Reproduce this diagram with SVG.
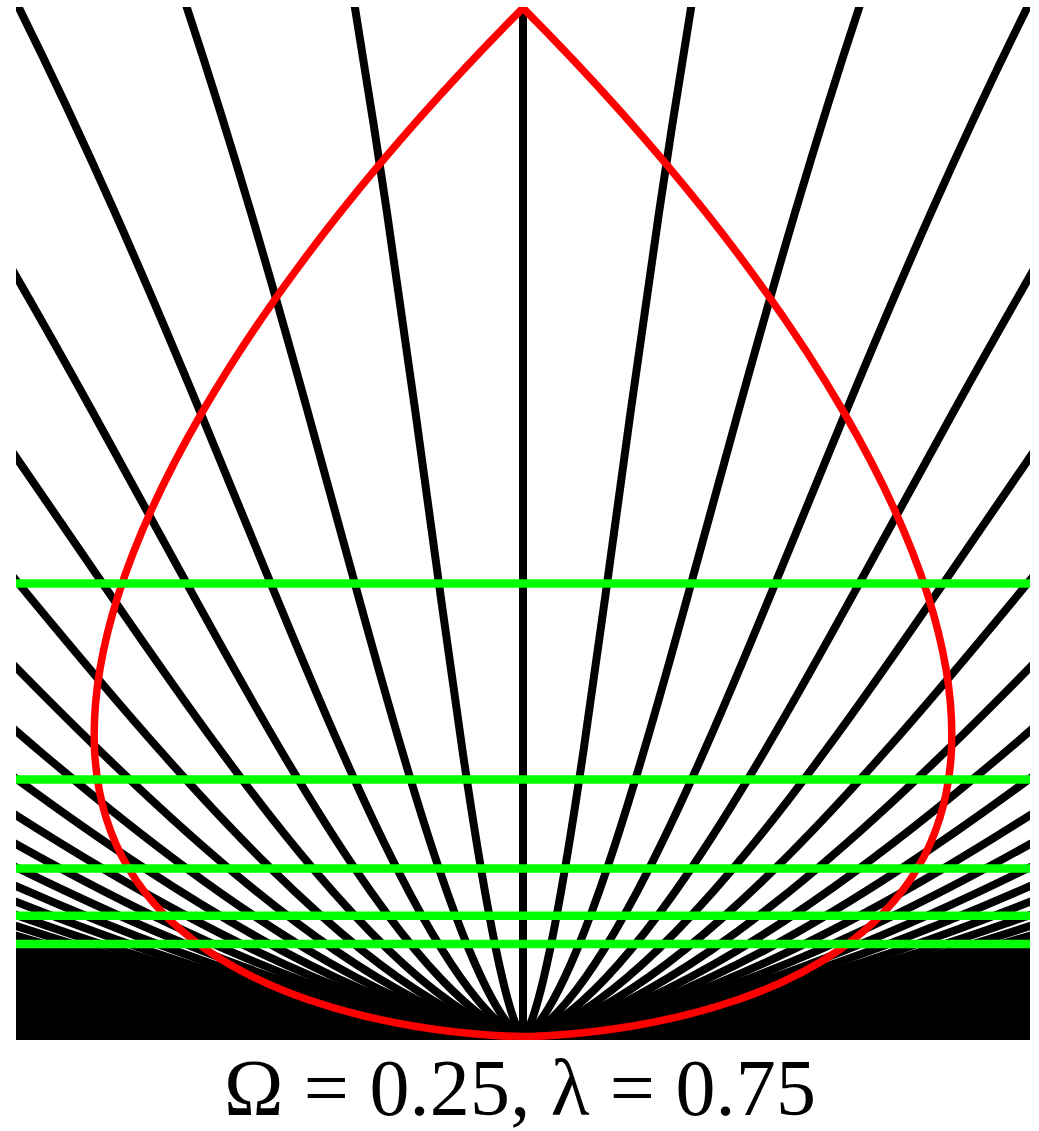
<svg xmlns="http://www.w3.org/2000/svg" width="1039" height="1131" viewBox="0 0 1039 1131">
<style>
.wl{fill:none;stroke:#000;stroke-width:8;vector-effect:non-scaling-stroke;stroke-linecap:butt}
.wf{fill:#000;stroke:none}
.lc{fill:none;stroke:#ff0000;stroke-width:7.5;stroke-linejoin:round}
.zs{stroke:#00ff00;stroke-width:8.5}
.lbl{font-family:"Liberation Serif","Times New Roman",serif;font-size:80px;fill:#000}
</style>
<defs>
<clipPath id="frame"><rect x="16" y="7" width="1014" height="1033"/></clipPath>
<path id="wl" class="wl" d="M-174.72 -32.58 L-168 8 C-156.8 75.64 -146.16 144.17 -136.08 212.2 C-126 280.23 -116.48 347.73 -107.52 412.5 C-98.56 477.27 -90.16 539.21 -82.32 596.2 C-74.48 653.19 -67.2 705.09 -60.48 750.7 C-53.76 796.31 -47.6 835.65 -42 868.7 C-36.4 901.75 -31.36 928.59 -26.88 950.1 C-22.4 971.61 -18.48 987.84 -15.12 1000 C-11.76 1012.16 -8.96 1020.29 -6.72 1025.7 C-4.48 1031.11 -2.8 1033.8 -1.68 1035.15 C-0.56 1036.5 0 1036.5 0 1036.5"/>
<path id="wf" class="wf" d="M-174.72 -32.58 L-168 8 C-156.8 75.64 -146.16 144.17 -136.08 212.2 C-126 280.23 -116.48 347.73 -107.52 412.5 C-98.56 477.27 -90.16 539.21 -82.32 596.2 C-74.48 653.19 -67.2 705.09 -60.48 750.7 C-53.76 796.31 -47.6 835.65 -42 868.7 C-36.4 901.75 -31.36 928.59 -26.88 950.1 C-22.4 971.61 -18.48 987.84 -15.12 1000 C-11.76 1012.16 -8.96 1020.29 -6.72 1025.7 C-4.48 1031.11 -2.8 1033.8 -1.68 1035.15 C-0.56 1036.5 0 1036.5 0 1036.5 L0 1050 L-3000 1050 L-3000 -32.58 Z"/>
</defs>
<rect width="1039" height="1131" fill="#fff"/>
<g id="worldlines" clip-path="url(#frame)">
<use href="#wf" transform="translate(523 0) scale(24 1)"/>
<use href="#wf" transform="translate(523 0) scale(-24 1)"/>
<line x1="523" y1="0" x2="523" y2="1036.5" stroke="#000" stroke-width="8"/>
<use href="#wl" transform="translate(523 0) scale(1 1)"/>
<use href="#wl" transform="translate(523 0) scale(2 1)"/>
<use href="#wl" transform="translate(523 0) scale(3 1)"/>
<use href="#wl" transform="translate(523 0) scale(4 1)"/>
<use href="#wl" transform="translate(523 0) scale(5 1)"/>
<use href="#wl" transform="translate(523 0) scale(6 1)"/>
<use href="#wl" transform="translate(523 0) scale(7 1)"/>
<use href="#wl" transform="translate(523 0) scale(8 1)"/>
<use href="#wl" transform="translate(523 0) scale(9 1)"/>
<use href="#wl" transform="translate(523 0) scale(10 1)"/>
<use href="#wl" transform="translate(523 0) scale(11 1)"/>
<use href="#wl" transform="translate(523 0) scale(12 1)"/>
<use href="#wl" transform="translate(523 0) scale(13 1)"/>
<use href="#wl" transform="translate(523 0) scale(14 1)"/>
<use href="#wl" transform="translate(523 0) scale(15 1)"/>
<use href="#wl" transform="translate(523 0) scale(16 1)"/>
<use href="#wl" transform="translate(523 0) scale(17 1)"/>
<use href="#wl" transform="translate(523 0) scale(18 1)"/>
<use href="#wl" transform="translate(523 0) scale(19 1)"/>
<use href="#wl" transform="translate(523 0) scale(20 1)"/>
<use href="#wl" transform="translate(523 0) scale(21 1)"/>
<use href="#wl" transform="translate(523 0) scale(22 1)"/>
<use href="#wl" transform="translate(523 0) scale(23 1)"/>
<use href="#wl" transform="translate(523 0) scale(24 1)"/>
<use href="#wl" transform="translate(523 0) scale(-1 1)"/>
<use href="#wl" transform="translate(523 0) scale(-2 1)"/>
<use href="#wl" transform="translate(523 0) scale(-3 1)"/>
<use href="#wl" transform="translate(523 0) scale(-4 1)"/>
<use href="#wl" transform="translate(523 0) scale(-5 1)"/>
<use href="#wl" transform="translate(523 0) scale(-6 1)"/>
<use href="#wl" transform="translate(523 0) scale(-7 1)"/>
<use href="#wl" transform="translate(523 0) scale(-8 1)"/>
<use href="#wl" transform="translate(523 0) scale(-9 1)"/>
<use href="#wl" transform="translate(523 0) scale(-10 1)"/>
<use href="#wl" transform="translate(523 0) scale(-11 1)"/>
<use href="#wl" transform="translate(523 0) scale(-12 1)"/>
<use href="#wl" transform="translate(523 0) scale(-13 1)"/>
<use href="#wl" transform="translate(523 0) scale(-14 1)"/>
<use href="#wl" transform="translate(523 0) scale(-15 1)"/>
<use href="#wl" transform="translate(523 0) scale(-16 1)"/>
<use href="#wl" transform="translate(523 0) scale(-17 1)"/>
<use href="#wl" transform="translate(523 0) scale(-18 1)"/>
<use href="#wl" transform="translate(523 0) scale(-19 1)"/>
<use href="#wl" transform="translate(523 0) scale(-20 1)"/>
<use href="#wl" transform="translate(523 0) scale(-21 1)"/>
<use href="#wl" transform="translate(523 0) scale(-22 1)"/>
<use href="#wl" transform="translate(523 0) scale(-23 1)"/>
<use href="#wl" transform="translate(523 0) scale(-24 1)"/>
</g>
<g id="lightcone" clip-path="url(#frame)">
<path class="lc" d="M523 8 C455.8 75.64 394.46 144.17 340.4 212.2 C286.34 280.23 239.6 347.73 202 412.5 C164.4 477.27 135.94 539.21 117.9 596.2 C99.86 653.19 92.31 705.09 94.6 750.7 C96.89 796.31 108.97 835.65 128.7 868.7 C148.43 901.75 175.71 928.59 207 950.1 C238.29 971.61 273.64 987.84 309.1 1000 C344.56 1012.16 380.11 1020.29 411.8 1025.7 C443.49 1031.11 471.32 1033.8 491.2 1035.15 C511.08 1036.5 523 1036.5 523 1036.5 C523 1036.5 534.92 1036.5 554.8 1035.15 C574.68 1033.8 602.51 1031.11 634.2 1025.7 C665.89 1020.29 701.44 1012.16 736.9 1000 C772.36 987.84 807.71 971.61 839 950.1 C870.29 928.59 897.57 901.75 917.3 868.7 C937.03 835.65 949.11 796.31 951.4 750.7 C953.69 705.09 946.14 653.19 928.1 596.2 C910.06 539.21 881.6 477.27 844 412.5 C806.4 347.73 759.66 280.23 705.6 212.2 C651.54 144.17 590.2 75.64 523 8 Z"/>
</g>
<g id="slices" class="zs">
<line x1="16" y1="583.5" x2="1030" y2="583.5"/>
<line x1="16" y1="779.5" x2="1030" y2="779.5"/>
<line x1="16" y1="868.5" x2="1030" y2="868.5"/>
<line x1="16" y1="915.8" x2="1030" y2="915.8"/>
<line x1="16" y1="944" x2="1030" y2="944"/>
</g>
<g id="label">
<text class="lbl" x="520" y="1115" text-anchor="middle" textLength="592" lengthAdjust="spacing">Ω = 0.25, λ = 0.75</text>
</g>
</svg>
